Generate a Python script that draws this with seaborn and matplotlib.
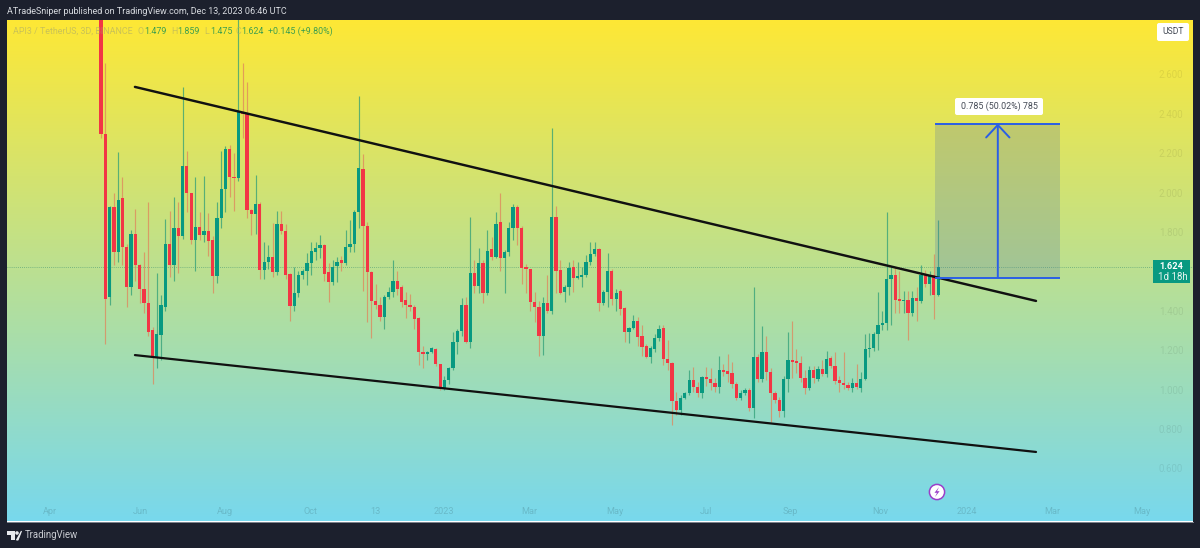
import numpy as np
import pandas as pd
import matplotlib
matplotlib.use('Agg')
import matplotlib.pyplot as plt
from matplotlib.patches import FancyBboxPatch, Polygon, Circle, Rectangle
import seaborn as sns

# API3 / USDT, velas de 3 dias
abertura = [2.95,2.30,1.47,1.925,1.70,1.975,1.725,1.52,1.79,1.63,
    1.51,1.44,1.30,1.165,1.275,1.42,1.74,1.63,1.82,1.78,
    2.135,2.0,1.76,1.825,1.785,1.805,1.76,1.575,1.87,2.02,
    2.22,2.08,2.075,2.41,2.40,1.91,1.89,1.94,1.605,1.65,
    1.675,1.595,1.84,1.805,1.585,1.425,1.49,1.58,1.60,1.645,
    1.70,1.72,1.735,1.595,1.545,1.625,1.66,1.645,1.725,1.74,
    1.90,2.12,1.83,1.595,1.45,1.43,1.37,1.47,1.495,1.55,
    1.52,1.455,1.43,1.42,1.365,1.19,1.18,1.19,1.205,1.13,
    1.01,1.05,1.11,1.24,1.295,1.43,1.24,1.59,1.525,1.645,
    1.49,1.715,1.675,1.85,1.67,1.70,1.82,1.925,1.82,1.62,
    1.61,1.445,1.42,1.27,1.44,1.40,1.875,1.605,1.495,1.52,
    1.62,1.565,1.57,1.58,1.65,1.69,1.715,1.44,1.495,1.60,
    1.46,1.50,1.415,1.29,1.315,1.35,1.27,1.22,1.165,1.205,
    1.26,1.315,1.155,1.135,0.94,0.895,0.955,0.98,1.05,1.015,
    0.98,1.065,1.055,1.035,1.015,1.10,1.095,1.085,1.03,0.955,
    0.98,1.0,0.905,1.165,1.055,1.19,1.09,0.98,0.945,0.89,
    1.055,1.15,1.145,1.135,1.06,1.01,1.10,1.055,1.105,1.08,
    1.16,1.12,1.05,1.035,1.025,1.01,1.035,1.01,1.055,1.205,
    1.21,1.28,1.33,1.34,1.56,1.58,1.46,1.45,1.455,1.39,
    1.465,1.45,1.58,1.535,1.58,1.479]
fechamento = [2.30,1.46,1.925,1.70,1.965,1.725,1.52,1.79,1.63,1.51,
    1.44,1.29,1.165,1.28,1.43,1.74,1.63,1.82,1.78,2.135,
    2.0,1.76,1.825,1.785,1.805,1.755,1.575,1.87,2.02,2.22,
    2.08,2.075,2.41,2.40,1.91,1.89,1.94,1.605,1.65,1.675,
    1.595,1.84,1.805,1.58,1.425,1.49,1.58,1.60,1.645,1.705,
    1.72,1.735,1.585,1.545,1.62,1.65,1.645,1.725,1.74,1.90,
    2.125,1.83,1.595,1.45,1.43,1.37,1.47,1.495,1.55,1.51,
    1.445,1.43,1.42,1.36,1.19,1.18,1.19,1.21,1.13,1.015,
    1.05,1.11,1.24,1.295,1.43,1.24,1.59,1.525,1.645,1.49,
    1.705,1.675,1.84,1.67,1.70,1.82,1.925,1.82,1.615,1.61,
    1.445,1.42,1.27,1.44,1.40,1.875,1.60,1.49,1.52,1.615,
    1.565,1.575,1.58,1.65,1.69,1.715,1.44,1.495,1.60,1.46,
    1.49,1.41,1.29,1.315,1.35,1.265,1.215,1.165,1.21,1.26,
    1.31,1.155,1.135,0.94,0.895,0.955,0.98,1.05,1.015,0.98,
    1.065,1.055,1.035,1.015,1.10,1.09,1.08,1.03,0.955,0.98,
    1.0,0.905,1.165,1.055,1.19,1.09,0.98,0.945,0.89,1.055,
    1.15,1.14,1.135,1.06,1.01,1.10,1.06,1.105,1.08,1.155,
    1.12,1.045,1.035,1.025,1.01,1.035,1.015,1.055,1.205,1.21,
    1.28,1.33,1.34,1.56,1.58,1.455,1.45,1.455,1.39,1.465,
    1.45,1.58,1.535,1.58,1.48,1.624]
maxima = [3.1,2.66,1.93,2.0,2.205,2.08,1.74,1.81,1.915,1.64,
    1.70,1.955,1.32,1.59,1.48,1.865,1.905,1.98,1.955,2.535,
    2.21,2.0,2.08,1.90,2.085,1.895,1.78,1.95,2.21,2.235,
    2.24,2.20,2.88,2.66,2.56,1.915,2.09,1.95,1.75,1.735,
    1.845,1.905,1.905,1.84,1.59,1.62,1.60,1.61,1.695,1.75,
    1.75,1.785,1.74,1.645,1.66,1.675,1.68,1.81,1.86,1.91,
    2.49,2.195,1.85,1.60,1.535,1.47,1.48,1.52,1.66,1.60,
    1.53,1.495,1.485,1.43,1.37,1.22,1.195,1.215,1.21,1.13,
    1.07,1.115,1.29,1.31,1.465,1.47,1.875,1.66,1.72,1.66,
    1.81,1.775,1.90,2.0,1.71,1.85,1.94,1.935,1.83,1.64,
    1.61,1.495,1.45,1.47,1.58,2.33,1.93,1.66,1.53,1.65,
    1.66,1.65,1.62,1.685,1.75,1.75,1.72,1.505,1.695,1.61,
    1.51,1.51,1.42,1.32,1.38,1.37,1.33,1.23,1.22,1.28,
    1.33,1.33,1.25,1.14,0.99,0.97,0.99,1.10,1.115,1.04,
    1.07,1.115,1.11,1.06,1.17,1.13,1.18,1.14,1.04,1.0,
    1.01,1.01,1.52,1.18,1.325,1.27,1.11,0.995,0.96,1.07,
    1.29,1.35,1.205,1.17,1.10,1.12,1.12,1.12,1.15,1.195,
    1.17,1.19,1.07,1.19,1.04,1.06,1.13,1.09,1.28,1.285,
    1.29,1.495,1.40,1.90,1.62,1.62,1.60,1.50,1.50,1.50,
    1.52,1.63,1.605,1.60,1.69,1.859]
minimas = [2.28,1.23,1.43,1.63,1.65,1.63,1.42,1.48,1.55,1.44,
    1.39,1.27,1.03,1.11,1.15,1.40,1.57,1.55,1.59,1.765,
    1.90,1.74,1.60,1.76,1.75,1.68,1.49,1.54,1.82,1.90,
    1.98,1.905,2.06,2.28,1.87,1.785,1.79,1.56,1.56,1.61,
    1.57,1.58,1.79,1.56,1.35,1.40,1.47,1.56,1.53,1.58,
    1.66,1.67,1.55,1.445,1.53,1.545,1.60,1.63,1.70,1.70,
    1.82,1.50,1.345,1.26,1.41,1.35,1.31,1.46,1.47,1.48,
    1.42,1.365,1.40,1.31,1.125,1.11,1.15,1.185,1.12,1.00,
    1.00,1.03,1.10,1.18,1.27,1.235,1.21,1.49,1.49,1.44,
    1.48,1.66,1.67,1.60,1.49,1.68,1.76,1.735,1.535,1.49,
    1.40,1.345,1.17,1.175,1.39,1.385,1.49,1.485,1.445,1.48,
    1.495,1.56,1.52,1.57,1.63,1.68,1.40,1.43,1.42,1.43,
    1.40,1.38,1.24,1.235,1.31,1.22,1.17,1.16,1.135,1.19,
    1.245,1.125,1.10,0.82,0.87,0.87,0.95,0.97,0.99,0.96,
    0.955,1.02,1.0,0.985,0.98,1.07,1.04,1.01,0.945,0.945,
    0.97,0.89,0.855,1.04,1.04,1.05,0.835,0.93,0.86,0.86,
    0.99,1.06,1.085,1.04,0.975,1.0,1.035,1.045,1.07,1.065,
    1.11,1.03,0.985,1.005,1.0,0.985,1.005,0.99,1.05,1.165,
    1.195,1.2,1.30,1.30,1.33,1.39,1.39,1.39,1.25,1.375,
    1.35,1.44,1.52,1.48,1.36,1.475]

ticks_preco = [0.6, 0.8, 1.0, 1.2, 1.4, 1.8, 2.0, 2.2, 2.4, 2.6]
rotulos_preco = ['0.600', '0.800', '1.000', '1.200', '1.400', '1.800', '2.000', '2.200', '2.400', '2.600']
ticks_tempo = [-11.9, 9.1, 28.9, 48.9, 64, 79.9, 99.7, 119.7, 140.9, 160.5, 181.5, 201.7, 221.5, 242.5]
rotulos_tempo = ['Apr', 'Jun', 'Aug', 'Oct', '13', '2023', 'Mar', 'May', 'Jul', 'Sep', 'Nov', '2024', 'Mar', 'May']

# linhas de tendencia e caixa de medicao (indice da vela, preco)
tendencia_x = [7.9, 217.8]
topo_y = [2.537, 1.45]
fundo_y = [1.175, 0.683]
ultimo_preco = 1.624
medida_x = [194.3, 223.5]
medida_y = [1.569, 2.351]

VERDE = '#089981'
VERMELHO = '#f23645'
AZUL = '#2a5fe6'
ESCURO = '#1c202d'

dados = pd.DataFrame({'vela': range(len(abertura)), 'abertura': abertura, 'fechamento': fechamento,
                      'maxima': maxima, 'minima': minimas})
dados['base'] = dados[['abertura', 'fechamento']].min(axis=1)
dados['corpo'] = (dados['fechamento'] - dados['abertura']).abs()
sobe = dados[dados['fechamento'] >= dados['abertura']]
desce = dados[dados['fechamento'] < dados['abertura']]

sns.set_theme(style='white')
plt.rcParams['font.family'] = ['Roboto', 'DejaVu Sans']

fig = plt.figure(figsize=(12, 5.48), dpi=100, facecolor=ESCURO)
L, R, T, B = 7, 1193, 20, 521.5
ax = fig.add_axes([L / 1200, 1 - B / 548, (R - L) / 1200, (B - T) / 548])

# fundo em degrade
xlim = ((L - 101) / 4.293, (R - 101) / 4.293)
ylim = (2.6 - (B - 74.5) / 196.9, 2.6 + (74.5 - T) / 196.9)
cmap = sns.blend_palette(['#fee835', '#78d8ed'], as_cmap=True)
ax.imshow(np.linspace(0, 1, 256).reshape(-1, 1), cmap=cmap, aspect='auto',
          extent=(xlim[0], xlim[1], ylim[0], ylim[1]), zorder=0)

# pavios
ax.vlines(sobe['vela'], sobe['minima'], sobe['maxima'], color='#2f9f78', lw=0.85, alpha=0.75, zorder=2)
ax.vlines(desce['vela'], desce['minima'], desce['maxima'], color='#e0855c', lw=0.85, alpha=0.75, zorder=2)

# corpos das velas
for parte, cor in [(sobe, VERDE), (desce, VERMELHO)]:
    sns.barplot(data=parte, x='vela', y='corpo', bottom=parte['base'].values, native_scale=True,
                color=cor, saturation=1, width=0.76, errorbar=None, linewidth=0, ax=ax, zorder=3)

# preco atual
ax.axhline(ultimo_preco, color='#3f8f70', lw=0.6, ls=(0, (1, 1.5)), alpha=0.7, zorder=1)

# linhas de tendencia
sns.lineplot(x=tendencia_x, y=topo_y, color='#111111', lw=1.75, ax=ax, zorder=5)
sns.lineplot(x=tendencia_x, y=fundo_y, color='#111111', lw=1.6, ax=ax, zorder=5)

# caixa de medicao
ax.add_patch(Rectangle((medida_x[0], medida_y[0]), medida_x[1] - medida_x[0], medida_y[1] - medida_y[0],
                       facecolor='#4f6fa8', alpha=0.23, lw=0, zorder=4))
ax.hlines(medida_y, medida_x[0], medida_x[1], color=AZUL, lw=1.4, zorder=6)
ax.annotate('', xy=(np.mean(medida_x), medida_y[1]), xytext=(np.mean(medida_x), medida_y[0]),
            arrowprops=dict(arrowstyle='->,head_length=0.75,head_width=0.7', color=AZUL, lw=1.4,
                            shrinkA=0, shrinkB=0), zorder=6)

ax.set_xlim(xlim)
ax.set_ylim(ylim)
ax.set_xlabel('')
ax.set_ylabel('')
ax.set_xticks(ticks_tempo, rotulos_tempo)
ax.yaxis.tick_right()
ax.set_yticks(ticks_preco, rotulos_preco)
ax.tick_params(axis='x', length=0, pad=-10.5, labelsize=6.6, labelcolor=(0, 0, 0, 0.14))
ax.tick_params(axis='y', length=0, pad=-24.5, labelsize=7, labelcolor='#000000')
for rotulo in ax.yaxis.get_ticklabels(which='major'):
    rotulo.set_alpha(0.08)
ax.grid(False)
for lado in ['top', 'left', 'right']:
    ax.spines[lado].set_visible(False)
ax.spines['bottom'].set_color('#7f8690')
ax.spines['bottom'].set_linewidth(0.7)

# camada em pixels para os textos da interface
cam = fig.add_axes([0, 0, 1, 1], facecolor='none')
cam.set_xlim(0, 1200)
cam.set_ylim(548, 0)
cam.axis('off')

cam.text(7, 11.5, 'ATradeSniper published on TradingView.com, Dec 13, 2023 06:46 UTC', color='#d8dbe0',
         fontsize=6.45, va='center')
cam.text(13, 31, 'API3 / TetherUS, 3D, BINANCE', color='#a9a96a', alpha=0.6, fontsize=6.4, va='center')
for xp, rot, val in [(138, 'O', '1.479'), (171, 'H', '1.859'), (204, 'L', '1.475'), (235, 'C', '1.624')]:
    cam.text(xp, 31, rot, color='#a9a96a', alpha=0.6, fontsize=6.4, va='center')
    cam.text(xp + 6, 31, val, color='#3f9f4e', fontsize=6.4, va='center')
cam.text(268, 31, '+0.145 (+9.80%)', color='#3f9f4e', fontsize=6.4, va='center')

# caixas brancas
for x0, y0, lrg, alt, txt, tam, cx, cy in [(955, 98, 88, 17, '0.785 (50.02%) 785', 6.4, 999, 106.5),
                                            (1157, 23, 32, 18, 'USDT', 6.2, 1173, 32)]:
    cam.add_patch(FancyBboxPatch((x0, y0), lrg, alt, boxstyle='round,pad=0,rounding_size=2',
                                 fc='white', ec='none', zorder=7))
    cam.text(cx, cy, txt, color='#444a55', fontsize=tam, ha='center', va='center', zorder=8)

cam.add_patch(Rectangle((1153, 260), 37, 23, fc=VERDE, ec='none', zorder=7))
cam.text(1171.5, 266.5, '1.624', color='white', fontsize=6.6, fontweight='bold', ha='center', va='center', zorder=8)
cam.text(1173, 277, '1d 18h', color='#e6f5f0', fontsize=7, ha='center', va='center', zorder=8)

# icone do raio
cam.add_patch(Circle((937, 492), 7.6, fc='white', ec='#9b3fc9', lw=1.1, zorder=7))
cam.add_patch(Polygon([(939, 487), (934.5, 492.8), (937, 492.8), (935, 497), (939.6, 491.2), (937, 491.2)],
                      fc='#9b3fc9', ec='none', zorder=8))

# logo TradingView
cam.add_patch(Polygon([(7, 531), (15, 531), (15, 540), (11, 540), (11, 535), (7, 535)], fc='#e8eaee', ec='none'))
cam.add_patch(Circle((17, 533), 1.8, fc='#e8eaee', ec='none'))
cam.add_patch(Polygon([(18, 540), (21.5, 531), (16.5, 540)], fc='#e8eaee', ec='#e8eaee', lw=0.8))
cam.text(25, 535.5, 'TradingView', color='#c9ccd2', fontsize=6.9, va='center')

fig.savefig('out.png', dpi=100, facecolor=ESCURO)
